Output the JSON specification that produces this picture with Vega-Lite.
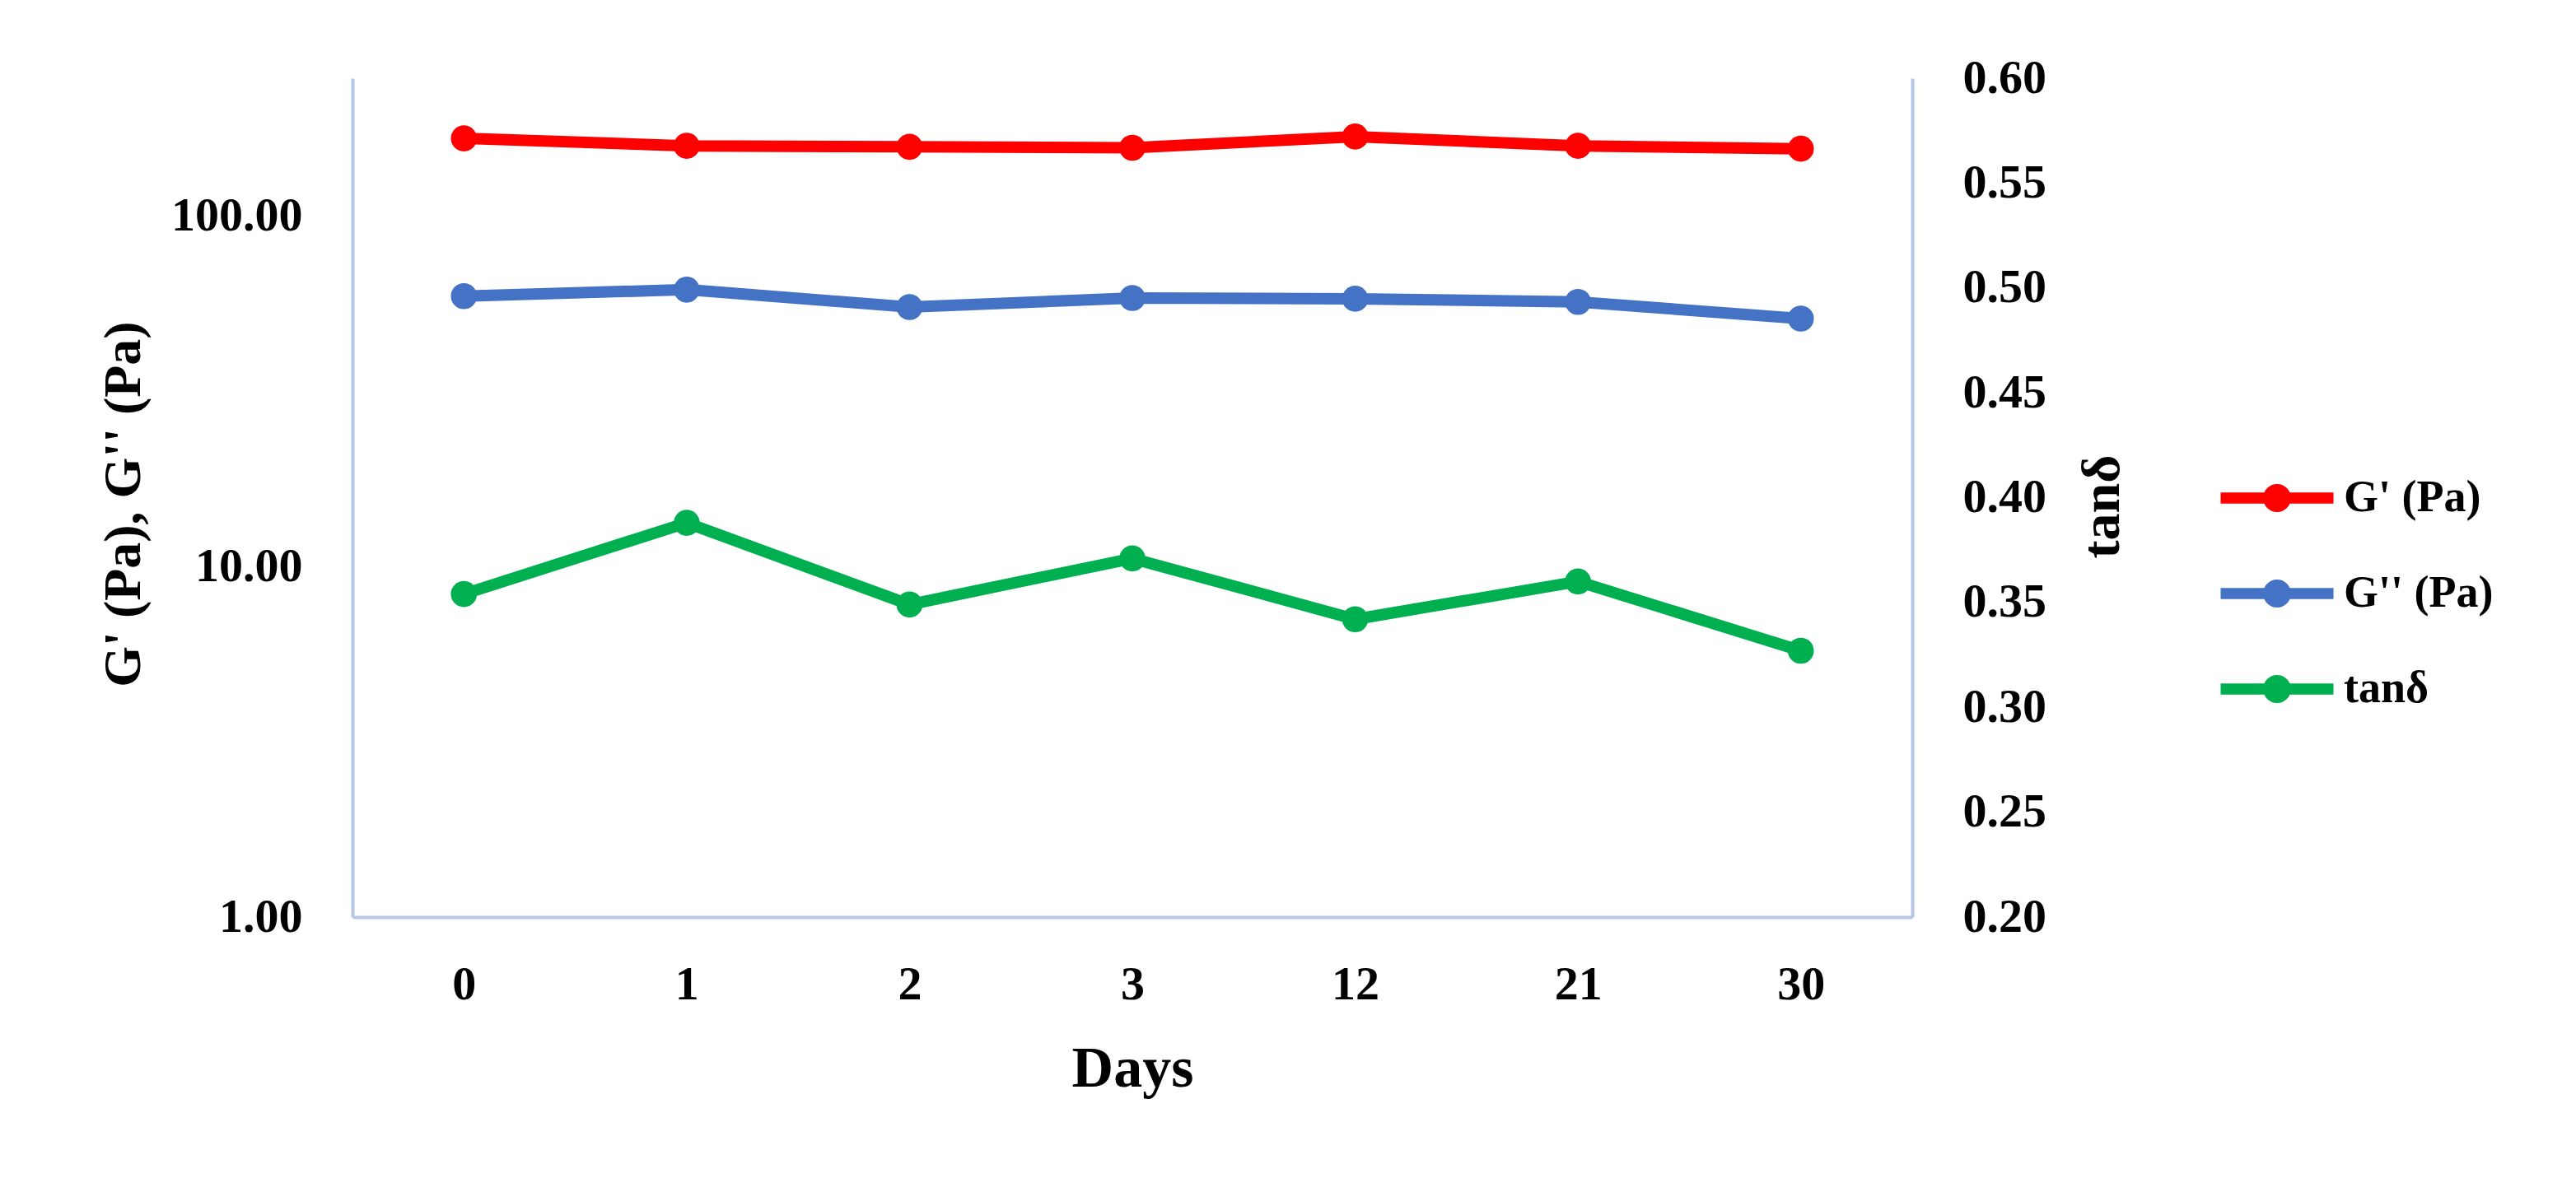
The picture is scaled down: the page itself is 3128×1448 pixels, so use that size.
{
  "$schema": "https://vega.github.io/schema/vega-lite/v6.json",
  "width": 1894,
  "height": 1019,
  "autosize": {"type": "none"},
  "padding": {"left": 428, "top": 95, "right": 806, "bottom": 334},
  "background": "white",
  "config": {
    "view": {"stroke": null},
    "font": "Liberation Serif",
    "axis": {
      "grid": false,
      "ticks": false,
      "tickSize": 0,
      "domainColor": "#B4C7E7",
      "domainWidth": 4,
      "labelFont": "Liberation Serif",
      "labelColor": "#000000",
      "labelFontSize": 58,
      "labelFontWeight": "bold",
      "titleFont": "Liberation Serif",
      "titleColor": "#000000",
      "titleFontWeight": "bold"
    }
  },
  "data": {
    "values": [
      {"day": 0, "series": "G' (Pa)", "value": 167},
      {"day": 1, "series": "G' (Pa)", "value": 159},
      {"day": 2, "series": "G' (Pa)", "value": 158},
      {"day": 3, "series": "G' (Pa)", "value": 157},
      {"day": 12, "series": "G' (Pa)", "value": 169},
      {"day": 21, "series": "G' (Pa)", "value": 159},
      {"day": 30, "series": "G' (Pa)", "value": 156},
      {"day": 0, "series": "G'' (Pa)", "value": 59.2},
      {"day": 1, "series": "G'' (Pa)", "value": 61.8},
      {"day": 2, "series": "G'' (Pa)", "value": 55.1},
      {"day": 3, "series": "G'' (Pa)", "value": 58.5},
      {"day": 12, "series": "G'' (Pa)", "value": 58.2},
      {"day": 21, "series": "G'' (Pa)", "value": 57.0},
      {"day": 30, "series": "G'' (Pa)", "value": 51.1},
      {"day": 0, "series": "tanδ", "value": 0.354},
      {"day": 1, "series": "tanδ", "value": 0.388},
      {"day": 2, "series": "tanδ", "value": 0.349},
      {"day": 3, "series": "tanδ", "value": 0.371},
      {"day": 12, "series": "tanδ", "value": 0.342},
      {"day": 21, "series": "tanδ", "value": 0.360},
      {"day": 30, "series": "tanδ", "value": 0.327}
    ]
  },
  "encoding": {
    "x": {
      "field": "day",
      "type": "ordinal",
      "scale": {"type": "point", "padding": 0.5},
      "axis": {
        "labelAngle": 0,
        "labelPadding": 82,
        "labelBaseline": "middle",
        "title": "Days",
        "titleFontSize": 70,
        "titleX": 947,
        "titleY": 184,
        "titleAlign": "center",
        "titleBaseline": "middle"
      }
    },
    "color": {
      "field": "series",
      "type": "nominal",
      "scale": {
        "domain": ["G' (Pa)", "G'' (Pa)", "tanδ"],
        "range": ["#FF0000", "#4472C4", "#00B050"]
      },
      "legend": {
        "title": null,
        "orient": "none",
        "legendX": 2310,
        "legendY": 483,
        "padding": 0,
        "rowPadding": 62,
        "symbolType": "M-2.74,-0.27H2.74V0.27H-2.74Z M0.68,0A0.68,0.68 0 1,1 -0.68,0A0.68,0.68 0 1,1 0.68,0Z",
        "symbolSize": 2500,
        "symbolStrokeWidth": 0,
        "symbolOpacity": 1,
        "labelOffset": 54,
        "labelFont": "Liberation Serif",
        "labelFontSize": 54,
        "labelFontWeight": "bold",
        "labelColor": "#000000",
        "labelLimit": 400,
        "encode": {
          "symbols": {
            "update": {
              "fill": {"scale": "color", "field": "value"},
              "stroke": {"value": "transparent"},
              "opacity": {"value": 1}
            }
          }
        }
      }
    }
  },
  "layer": [
    {
      "transform": [{"filter": "datum.series !== 'tanδ'"}],
      "mark": {"type": "line", "strokeWidth": 14, "point": {"filled": true, "size": 1000, "opacity": 1}},
      "encoding": {
        "y": {
          "field": "value",
          "type": "quantitative",
          "scale": {"type": "log", "domain": [1, 248], "nice": false},
          "axis": {
            "orient": "left",
            "values": [1, 10, 100],
            "format": ".2f",
            "labelPadding": 61,
            "title": "G' (Pa), G'' (Pa)",
            "titleFontSize": 64,
            "titleAngle": -90,
            "titleX": -278,
            "titleY": 517,
            "titleAlign": "center",
            "titleBaseline": "middle"
          }
        }
      }
    },
    {
      "transform": [{"filter": "datum.series === 'tanδ'"}],
      "mark": {"type": "line", "strokeWidth": 14, "point": {"filled": true, "size": 1000, "opacity": 1}},
      "encoding": {
        "y": {
          "field": "value",
          "type": "quantitative",
          "scale": {"domain": [0.2, 0.6], "nice": false, "zero": false},
          "axis": {
            "orient": "right",
            "values": [0.2, 0.25, 0.3, 0.35, 0.4, 0.45, 0.5, 0.55, 0.6],
            "format": ".2f",
            "labelPadding": 61,
            "title": "tanδ",
            "titleFontSize": 66,
            "titleAngle": -90,
            "titleX": 230,
            "titleY": 520,
            "titleAlign": "center",
            "titleBaseline": "middle"
          }
        }
      }
    }
  ],
  "resolve": {"scale": {"y": "independent"}}
}
